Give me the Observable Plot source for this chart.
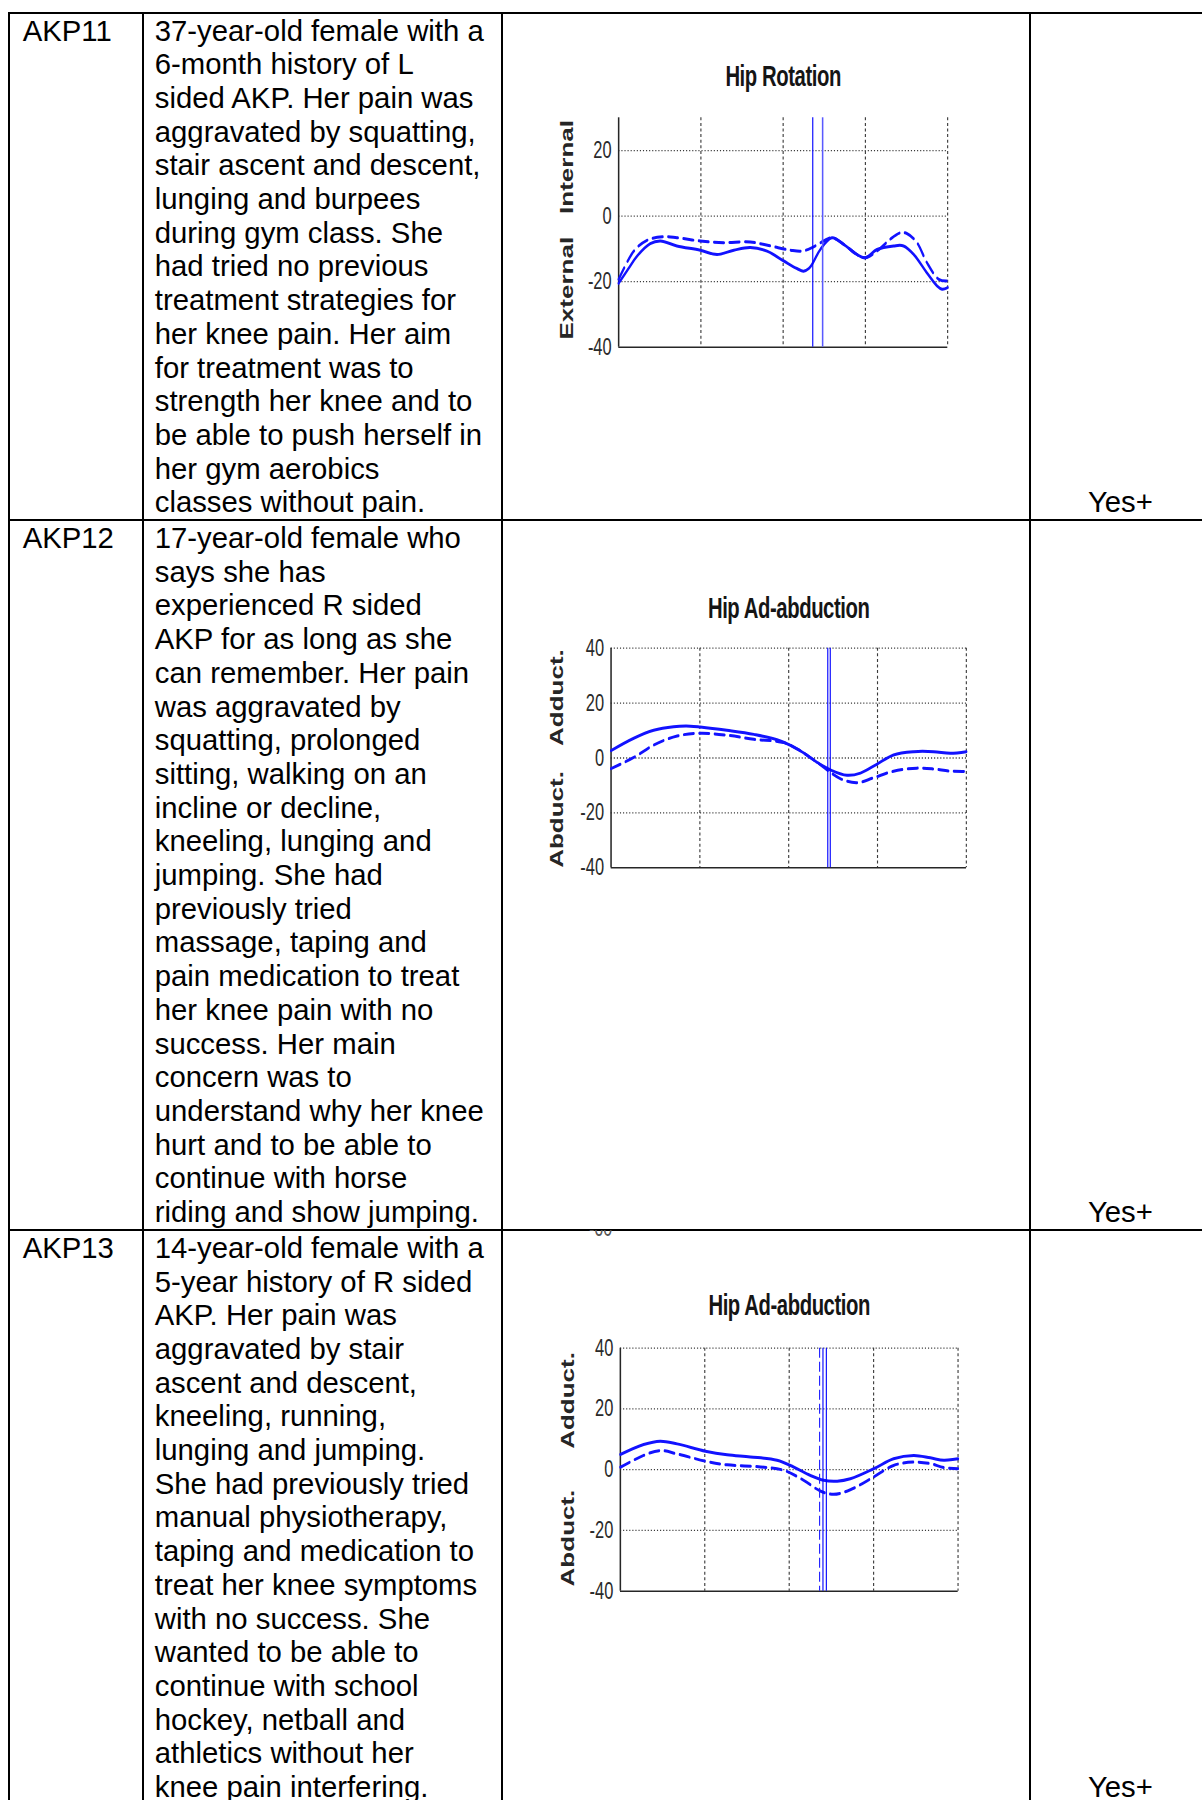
<!DOCTYPE html>
<html>
<head>
<meta charset="utf-8">
<script src="https://cdn.jsdelivr.net/npm/d3@7"></script>
<script src="https://cdn.jsdelivr.net/npm/@observablehq/plot@0.6"></script>
<style>
  html, body { margin:0; padding:0; background:#fff; width:1202px; height:1800px; overflow:hidden; }
  body { position:relative; font-family:"Liberation Sans", Arial, Helvetica, sans-serif; }
  table.cases { position:absolute; left:8.4px; top:11.5px; border-collapse:collapse; table-layout:fixed; width:1203.7px; }
  table.cases td { border:2px solid #000; padding:0; font-size:29.3px; line-height:33.7px; color:#000; white-space:nowrap; }
  td.id { vertical-align:top; padding-left:12.3px !important; }
  td.desc { vertical-align:top; padding-left:11.2px !important; }
  td.fig { vertical-align:top; }
  td.rating { vertical-align:bottom; padding-left:57.4px !important; }
  .chart { position:absolute; }
  .chart svg { transform-origin:0 0; transform:scaleX(0.7); max-width:none !important; display:block; }
  .chart svg g[aria-label="y-axis tick label"] { font-size:23.5px !important; fill:#2a2a2a; }
  .chart svg g[aria-label="y-axis tick label"] text { font-size:23.5px !important; }
  .clipped { position:absolute; left:589px; top:1229.7px; width:40px; height:7px; overflow:hidden; }
  .clipped span { position:absolute; left:0; top:-12.3px; font-size:23px; line-height:22px; color:#555; transform:scaleX(0.7); transform-origin:0 0; white-space:nowrap; }
</style>
</head>
<body>
<script>
// ---------- table content ----------
const patientIds = ["AKP11", "AKP12", "AKP13"];
const ratings = ["Yes+", "Yes+", "Yes+"];
const akp11Lines = [
  "37-year-old female with a", "6-month history of L", "sided AKP. Her pain was",
  "aggravated by squatting,", "stair ascent and descent,", "lunging and burpees",
  "during gym class. She", "had tried no previous", "treatment strategies for",
  "her knee pain. Her aim", "for treatment was to", "strength her knee and to",
  "be able to push herself in", "her gym aerobics", "classes without pain."
];
const akp12Lines = [
  "17-year-old female who", "says she has", "experienced R sided", "AKP for as long as she",
  "can remember. Her pain", "was aggravated by", "squatting, prolonged", "sitting, walking on an",
  "incline or decline,", "kneeling, lunging and", "jumping. She had", "previously tried",
  "massage, taping and", "pain medication to treat", "her knee pain with no", "success. Her main",
  "concern was to", "understand why her knee", "hurt and to be able to", "continue with horse",
  "riding and show jumping."
];
const akp13Lines = [
  "14-year-old female with a", "5-year history of R sided", "AKP. Her pain was",
  "aggravated by stair", "ascent and descent,", "kneeling, running,", "lunging and jumping.",
  "She had previously tried", "manual physiotherapy,", "taping and medication to",
  "treat her knee symptoms", "with no success. She", "wanted to be able to",
  "continue with school", "hockey, netball and", "athletics without her",
  "knee pain interfering."
];
const chartTitles = ["Hip Rotation", "Hip Ad-abduction", "Hip Ad-abduction"];
const rotAxisLabels = ["Internal", "External"];
const abdAxisLabels = ["Adduct.", "Abduct."];
const strayTickLabel = "-60";

// ---------- chart data: [% gait cycle, degrees] ----------
const rotTicks = [20, 0, -20, -40];
const abdTicks = [40, 20, 0, -20, -40];
const gridX = [25, 50, 75, 100];

const hipRotSolid = [[0,-20.5],[3,-16],[5.6,-12.2],[9.6,-8.4],[12.7,-7.6],[17.7,-9.1],[24.8,-10.4],[29.9,-11.7],[35,-10.4],[40,-9.6],[45.1,-10.7],[50.2,-13.7],[54.2,-16.0],[56.2,-16.8],[57.8,-16],[58.8,-14.7],[61.3,-10.2],[64.8,-6.6],[68.4,-8.6],[72.4,-11.7],[75,-12.7],[78.5,-10.2],[83.6,-9.1],[86.6,-9.1],[89.7,-11.7],[93.7,-17.3],[96.8,-21.3],[98.3,-22.3],[100,-21.8]];
const hipRotDashed = [[0,-19.3],[4.6,-10.7],[8.6,-7.4],[13.7,-6.3],[17.7,-6.6],[24.8,-7.6],[31.9,-8.1],[40,-7.9],[46.1,-9.1],[52.2,-10.4],[55.7,-10.7],[58.8,-9.6],[62.3,-7.6],[64.8,-6.6],[68.4,-8.6],[72.4,-11.7],[75,-12.7],[78.5,-10.7],[82.5,-7.1],[85.6,-5.1],[87.6,-5.3],[90.7,-8.1],[93.7,-14.2],[97.3,-19.3],[100,-19.8]];
const hipRotEventMain = [59.0];
const hipRotEventLight = [62.0];

const abd12Solid = [[0,2.7],[6.4,7.2],[12,10.1],[17.6,11.4],[22.3,11.6],[25.1,11.3],[32.6,10.1],[40.2,8.6],[47.7,6.2],[53.3,2.6],[58,-1.6],[61.7,-4.3],[66.4,-6.3],[70.2,-5.5],[74.9,-2.2],[79.5,1.1],[85.2,2.3],[90.8,2.3],[95.5,1.7],[100,2.3]];
const abd12Dashed = [[0,-3.9],[6.4,0.2],[12,4.7],[18.6,8.0],[25.1,9.0],[32.6,8.3],[40.2,6.8],[48.6,5.6],[53.3,2.6],[58,-1.6],[64.5,-7.5],[69.2,-9.0],[73.9,-7.2],[79.5,-4.8],[86.1,-3.7],[90.8,-4.0],[95.5,-4.8],[100,-4.9]];
const abd12EventMain = [61.0, 61.7];

const abd13Solid = [[0,5.0],[6.9,8.3],[11.8,9.4],[16.8,8.5],[25.2,6.1],[31.6,4.9],[38.5,4.2],[46.4,3.1],[51.3,0.9],[56.3,-1.9],[60.2,-3.5],[64.2,-3.8],[68.1,-3.0],[75,0.3],[80.9,3.6],[86.9,4.7],[91.8,3.9],[95.8,3.1],[100,3.6]];
const abd13Dashed = [[0,0.8],[6.9,4.7],[11.8,6.3],[16.8,5.2],[25.2,2.8],[31.6,1.6],[41.5,0.9],[48.4,-0.2],[54.3,-3.5],[59.2,-7.0],[63.2,-8.1],[68.1,-6.6],[75,-2.4],[80.9,1.4],[86.9,2.5],[91.8,2.0],[95.8,0.7],[100,0.3]];
const abd13EventDashed = [59.0];
const abd13EventMain = [60.0, 61.0];

// ---------- build table ----------
const table = document.createElement("table");
table.className = "cases";
const colgroup = document.createElement("colgroup");
[133.2, 359, 528, 183.5].forEach(w => {
  const c = document.createElement("col"); c.style.width = w + "px"; colgroup.appendChild(c);
});
table.appendChild(colgroup);
const tbody = document.createElement("tbody");
[akp11Lines, akp12Lines, akp13Lines].forEach((lines, i) => {
  const tr = document.createElement("tr");
  const td1 = document.createElement("td"); td1.className = "id"; td1.textContent = patientIds[i];
  const td2 = document.createElement("td"); td2.className = "desc";
  lines.forEach((l, j) => { if (j) td2.appendChild(document.createElement("br")); td2.appendChild(document.createTextNode(l)); });
  const td3 = document.createElement("td"); td3.className = "fig";
  const td4 = document.createElement("td"); td4.className = "rating"; td4.textContent = ratings[i];
  tr.append(td1, td2, td3, td4);
  tbody.appendChild(tr);
});
table.appendChild(tbody);
document.body.appendChild(table);

// stray cropped tick label at top of third row
const clip = document.createElement("div"); clip.className = "clipped";
const sp = document.createElement("span"); sp.textContent = strayTickLabel; clip.appendChild(sp);
document.body.appendChild(clip);

// ---------- charts ----------
const S = 0.7;
const BLUE = "#1212ff";
function drawChart(cfg) {
  const W = (cfg.right - cfg.left) / S;
  const mL = (cfg.frameLeft - cfg.left) / S;
  const mR = (cfg.right - cfg.frameRight) / S;
  const mT = cfg.frameTop - cfg.top;
  const mB = 12;
  const H = mT + (cfg.frameBottom - cfg.frameTop) + mB;
  const ymin = cfg.yDomain[0];
  const marks = [
    Plot.ruleY(cfg.gridY, {stroke: "#3a3a3a", strokeWidth: 1.3, strokeDasharray: "1.6,2.8"}),
    Plot.ruleX(gridX, {stroke: "#3a3a3a", strokeWidth: 1.6, strokeDasharray: "3,2.6"}),
    Plot.ruleX([0], {stroke: "#262626", strokeWidth: 2.2}),
    Plot.ruleY([ymin], {stroke: "#262626", strokeWidth: 1.6}),
    Plot.axisY({ticks: cfg.ticks, tickSize: 0, tickPadding: 10, tickFormat: d => String(d), fontSize: 23.5, label: null}),
    Plot.line(cfg.solid, {x: d => d[0], y: d => d[1], curve: "catmull-rom", stroke: BLUE, strokeWidth: 3}),
    Plot.line(cfg.dashed, {x: d => d[0], y: d => d[1], curve: "catmull-rom", stroke: BLUE, strokeWidth: 3, strokeDasharray: "14,8"}),
    Plot.ruleX(cfg.eventMain, {x: d => d, stroke: "#0000ff", strokeWidth: 1.6}),
    Plot.text([cfg.title], {text: d => d, frameAnchor: "top", dy: cfg.titleDy, lineAnchor: "middle", fontSize: 29, fontWeight: "bold", fill: "#151515"}),
    Plot.text(cfg.labels, {text: d => d, x: () => 0, y: (d, i) => cfg.labelY[i], rotate: -90, dx: cfg.labelDx, textAnchor: "middle", lineAnchor: "middle", fontSize: 26, fontWeight: "bold", fill: "#262626"})
  ];
  if (cfg.eventLight) marks.push(Plot.ruleX(cfg.eventLight, {x: d => d, stroke: "#5a5aff", strokeWidth: 2.2}));
  if (cfg.eventDashed) marks.push(Plot.ruleX(cfg.eventDashed, {x: d => d, stroke: "#2020ff", strokeWidth: 1.6, strokeDasharray: "10,4"}));
  const svg = Plot.plot({
    width: W, height: H,
    marginLeft: mL, marginRight: mR, marginTop: mT, marginBottom: mB,
    x: {domain: [0, 100], axis: null},
    y: {domain: cfg.yDomain},
    style: {fontFamily: '"Liberation Sans", Arial, sans-serif', fontSize: "23.5px", color: "#2a2a2a", background: "transparent", overflow: "visible"},
    marks
  });
  svg.style.maxWidth = "none";
  // tighten the title a little (narrow bold title of the original figure)
  svg.querySelectorAll("text").forEach(t => {
    if (t.textContent === cfg.title) t.style.letterSpacing = "-0.6px";
  });
  const wrap = document.createElement("div");
  wrap.className = "chart";
  wrap.style.left = cfg.left + "px";
  wrap.style.top = cfg.top + "px";
  wrap.style.width = W + "px";
  wrap.style.height = H + "px";
  wrap.appendChild(svg);
  document.body.appendChild(wrap);
}

drawChart({left: 540, right: 960, top: 50, frameLeft: 618.3, frameRight: 947.3, frameTop: 117.3, frameBottom: 346.7,
  yDomain: [-40, 30], ticks: rotTicks, gridY: [20, 0, -20], title: chartTitles[0], titleDy: -40.6,
  labels: rotAxisLabels, labelY: [15, -22], labelDx: -73.3,
  solid: hipRotSolid, dashed: hipRotDashed, eventMain: hipRotEventMain, eventLight: hipRotEventLight});

drawChart({left: 540, right: 980, top: 580, frameLeft: 610.7, frameRight: 966, frameTop: 647.7, frameBottom: 867.3,
  yDomain: [-40, 40], ticks: abdTicks, gridY: [40, 20, 0, -20], title: chartTitles[1], titleDy: -39.4,
  labels: abdAxisLabels, labelY: [22, -22.4], labelDx: -77.1,
  solid: abd12Solid, dashed: abd12Dashed, eventMain: abd12EventMain});

drawChart({left: 540, right: 970, top: 1270, frameLeft: 620, frameRight: 957.7, frameTop: 1347.7, frameBottom: 1590.7,
  yDomain: [-40, 40], ticks: abdTicks, gridY: [40, 20, 0, -20], title: chartTitles[2], titleDy: -42.7,
  labels: abdAxisLabels, labelY: [22.8, -22.5], labelDx: -73.9,
  solid: abd13Solid, dashed: abd13Dashed, eventMain: abd13EventMain, eventDashed: abd13EventDashed});
</script>
</body>
</html>
